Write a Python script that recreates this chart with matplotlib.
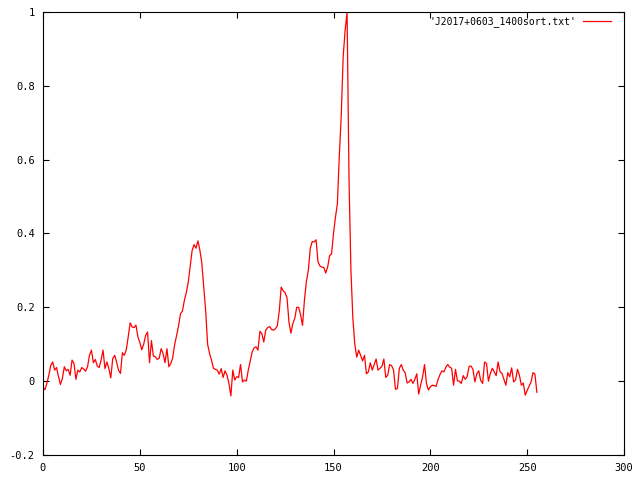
import matplotlib
matplotlib.use("Agg")
import matplotlib.pyplot as plt
import numpy as np

plt.rcParams['font.family'] = ['DejaVu Sans Mono', 'DejaVu Sans']

# normalised profile, one value per bin (0..255)
profile = [
    -0.017, -0.023, -0.006, 0.016, 0.043, 0.052, 0.030, 0.037, 0.012, -0.009,
    0.007, 0.039, 0.028, 0.032, 0.016, 0.057, 0.048, 0.005, 0.030, 0.025,
    0.037, 0.033, 0.027, 0.039, 0.070, 0.084, 0.050, 0.059, 0.041, 0.037,
    0.057, 0.084, 0.034, 0.052, 0.034, 0.009, 0.061, 0.070, 0.052, 0.030,
    0.021, 0.077, 0.070, 0.085, 0.120, 0.158, 0.147, 0.145, 0.152, 0.120,
    0.105, 0.085, 0.100, 0.124, 0.133, 0.050, 0.110, 0.068, 0.066, 0.059,
    0.062, 0.088, 0.075, 0.050, 0.088, 0.039, 0.048, 0.064, 0.100, 0.124,
    0.150, 0.183, 0.190, 0.219, 0.240, 0.268, 0.310, 0.354, 0.370, 0.360,
    0.380, 0.355, 0.320, 0.255, 0.190, 0.100, 0.075, 0.057, 0.035, 0.032,
    0.030, 0.019, 0.034, 0.010, 0.028, 0.016, -0.006, -0.040, 0.030, 0.003,
    0.012, 0.010, 0.045, -0.002, 0.003, 0.000, 0.030, 0.055, 0.079, 0.090,
    0.093, 0.084, 0.135, 0.129, 0.106, 0.138, 0.145, 0.148, 0.140, 0.138,
    0.142, 0.150, 0.190, 0.255, 0.245, 0.240, 0.226, 0.160, 0.130, 0.156,
    0.170, 0.200, 0.200, 0.180, 0.151, 0.220, 0.270, 0.300, 0.360, 0.378,
    0.377, 0.383, 0.323, 0.312, 0.309, 0.308, 0.293, 0.310, 0.340, 0.345,
    0.400, 0.444, 0.480, 0.610, 0.720, 0.880, 0.950, 1.000, 0.550, 0.300,
    0.170, 0.100, 0.065, 0.084, 0.070, 0.055, 0.070, 0.020, 0.025, 0.050,
    0.030, 0.045, 0.060, 0.030, 0.035, 0.040, 0.060, 0.010, 0.016, 0.045,
    0.042, 0.030, -0.022, -0.020, 0.035, 0.045, 0.030, 0.023, -0.005, -0.002,
    0.005, -0.006, 0.005, 0.020, -0.035, -0.010, 0.012, 0.045, -0.006, -0.024,
    -0.015, -0.011, -0.012, -0.014, 0.005, 0.018, 0.028, 0.025, 0.038, 0.045,
    0.038, 0.035, -0.011, 0.032, 0.001, 0.000, -0.006, 0.015, 0.005, 0.012,
    0.040, 0.041, 0.032, -0.002, 0.020, 0.028, 0.002, -0.006, 0.052, 0.048,
    0.000, 0.021, 0.035, 0.025, 0.015, 0.052, 0.025, 0.021, 0.005, -0.011,
    0.023, 0.012, 0.036, -0.002, 0.003, 0.032, 0.016, -0.011, -0.005, -0.038,
    -0.025, -0.014, -0.002, 0.023, 0.019, -0.030,
]
bins = np.arange(len(profile))
label = "'J2017+0603_1400sort.txt'"

fig = plt.figure(figsize=(6.4, 4.8), dpi=100)
ax = fig.add_axes([43 / 640, 25 / 480, 581 / 640, 443 / 480])

ax.plot(bins, profile, color='red', lw=0.9, label=label)

ax.set_xlim(0, 300)
ax.set_ylim(-0.2, 1.0)
ax.set_xticks([0, 50, 100, 150, 200, 250, 300])
ax.set_yticks([-0.2, 0, 0.2, 0.4, 0.6, 0.8, 1.0])
ax.set_yticklabels(['-0.2', '0', '0.2', '0.4', '0.6', '0.8', '1'])
ax.tick_params(direction='in', length=4.5, width=0.8, labelsize=7.5,
               top=True, right=True, pad=6)
for s in ax.spines.values():
    s.set_linewidth(0.8)

ax.legend(loc='upper right', bbox_to_anchor=(0.985, 1.0), frameon=False,
          markerfirst=False, handlelength=2.9, fontsize=7,
          borderaxespad=0.05, handletextpad=0.7)

fig.savefig('out.png', dpi=100)
